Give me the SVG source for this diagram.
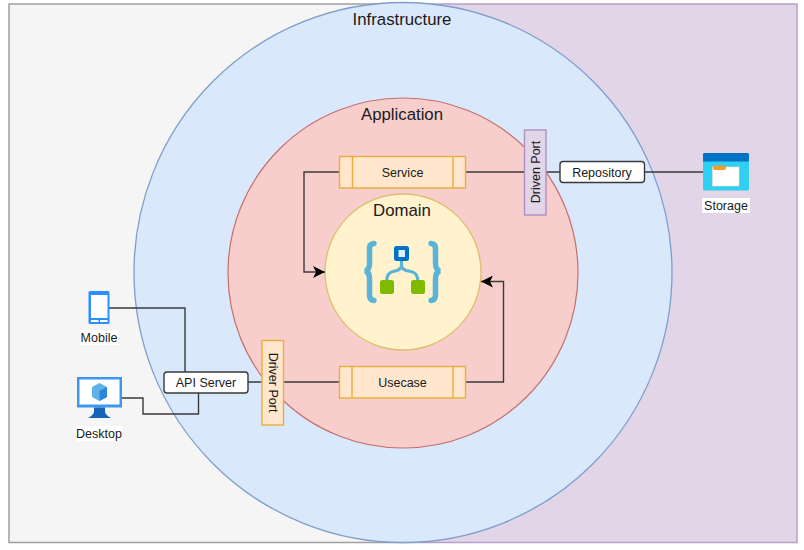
<svg xmlns="http://www.w3.org/2000/svg" width="804" height="550" viewBox="0 0 804 550">
<style>
text{font-family:"Liberation Sans",Arial,sans-serif;fill:#1a1a1a;text-anchor:middle}
.t{font-size:12.5px}
.h{font-size:16.8px}
.c{fill:none;stroke:#3a3a3a;stroke-width:1.4}
.proc{fill:#ffe6cc;stroke:#e8ad3c;stroke-width:1.4}
.lab{fill:#fff;stroke:#3a3a3a;stroke-width:1.4}
</style>
<defs>
<marker id="arr" viewBox="0 0 10 10" refX="10" refY="5" markerWidth="12" markerHeight="12" markerUnits="userSpaceOnUse" orient="auto"><path d="M0 0L10 5L0 10L2.5 5Z" fill="#000"/></marker>
</defs>
<rect width="804" height="550" fill="#fff"/>
<g id="background">
<path d="M403 4H9V542.500H403Z" fill="#f5f5f5" stroke="#a0a0a0" stroke-width="1.500"/>
<path d="M403 4H797V542.500H403Z" fill="#e1d5e7" stroke="#b9a0c8" stroke-width="1.500"/>
</g>
<g id="infrastructure"><ellipse cx="403" cy="272.500" rx="269" ry="270" fill="#dae8fc" stroke="#7f9ecb" stroke-width="1.300"/><text class="h" x="402" y="25">Infrastructure</text></g>
<g id="application"><circle cx="403" cy="273" r="175" fill="#f8cecc" stroke="#c56f6b" stroke-width="1.200"/><text class="h" x="402" y="120">Application</text></g>
<g id="domain"><circle cx="403" cy="272" r="78" fill="#fff2cc" stroke="#dcbf6e" stroke-width="1.300"/><text class="h" x="402" y="216">Domain</text>
<g fill="none" stroke="#59b4d9" stroke-linecap="round">
<path stroke-width="5.500" d="M374 243.500Q369.500 244 369.500 248V263Q369.500 270 365 271Q369.500 272 369.500 279V295Q369.500 300 374 300.500"/>
<path stroke-width="5.500" d="M431 243.500Q435.500 244 435.500 248V263Q435.500 270 440 271Q435.500 272 435.500 279V295Q435.500 300 431 300.500"/>
<path d="M401.500 260V266Q401.500 268.500 397 270.500L393 271.500Q386.500 273 386.500 282M401.500 266Q401.500 268.500 406 270.500L411 271.500Q418 273 418 282" stroke-width="3.200"/>
</g>
<rect x="394" y="246" width="15" height="15" rx="2.500" fill="#0072c6"/><rect x="398.500" y="250" width="6.500" height="7" fill="#dff0f8"/>
<rect x="380" y="280" width="14" height="14" rx="2.500" fill="#7fba00"/><rect x="411" y="280" width="14" height="14" rx="2.500" fill="#7fba00"/>
</g>
<g id="connectors">
<path class="c" d="M339.500 172H304V272H325" marker-end="url(#arr)"/>
<path class="c" d="M466 382H503.500V281.500H481" marker-end="url(#arr)"/>
<path class="c" d="M466 172H524.500M546 172H560M644.500 172H703"/>
<path class="c" d="M283.500 382H339.500M248 382H262"/>
<path class="c" d="M109 308H185V372M122 398H143V414H198.500V393"/>
</g>
<g id="service"><rect class="proc" x="339.500" y="156.500" width="126" height="31.500"/><path class="proc" d="M352.500 156.500V188M453 156.500V188"/><text class="t" x="402.500" y="176.500">Service</text></g>
<g id="usecase"><rect class="proc" x="339.500" y="366.500" width="126" height="31.500"/><path class="proc" d="M352 366.500V398M453 366.500V398"/><text class="t" x="402.500" y="386.500">Usecase</text></g>
<g id="driven-port"><rect x="524.500" y="130" width="21.500" height="85" fill="#e1d5e7" stroke="#b08fc4" stroke-width="1.400"/><text class="t" transform="translate(539.500 172) rotate(-90)">Driven Port</text></g>
<g id="driver-port"><rect x="262" y="340.500" width="21.500" height="84.500" fill="#ffe6cc" stroke="#e8ad3c" stroke-width="1.400"/><text class="t" transform="translate(268.500 382.500) rotate(90)">Driver Port</text></g>
<g id="repository"><rect class="lab" x="560" y="161.500" width="84.500" height="21" rx="3"/><text class="t" x="602" y="176.500">Repository</text></g>
<g id="api-server"><rect class="lab" x="164" y="372" width="84" height="21" rx="3"/><text class="t" x="206" y="386.500">API Server</text></g>
<g id="storage"><rect x="703" y="153" width="46" height="37.500" rx="1.500" fill="#2fd0f2"/><path d="M703 161.500V154.500Q703 153 704.500 153H747.500Q749 153 749 154.500V161.500Z" fill="#0072c6"/><rect x="712.500" y="167" width="26.500" height="19" fill="#fff" stroke="#e8e0c8" stroke-width="0.600"/><rect x="713" y="165.500" width="13" height="4.500" rx="2" fill="#f59a23"/><rect x="702" y="198" width="48" height="15" fill="#fff"/><text class="t" x="726" y="209.500">Storage</text></g>
<g id="mobile"><rect x="88.500" y="291" width="21" height="33" rx="1.500" fill="#2b8fff"/><rect x="91" y="295" width="16.500" height="23" fill="#fff"/><path d="M91 320H98.500V322H91ZM100 320H107.500V322H100Z" fill="#fff"/><rect x="80" y="330" width="38" height="15" fill="#fff"/><text class="t" x="99" y="341.500">Mobile</text></g>
<g id="desktop"><rect x="77" y="377" width="45" height="30.500" fill="#3d96ef"/><rect x="79.500" y="379.500" width="40" height="25" fill="#fff"/><path d="M99.500 383L107 387V397L99.500 401L92 397V387Z" fill="#5fb2e8"/><path d="M99.500 391L107 387V397L99.500 401Z" fill="#2a86d8"/><path d="M94 407.500H105V412Q106 415.500 111 418H88Q93 415.500 94 412Z" fill="#1664b8"/><rect x="76" y="426" width="46" height="15" fill="#fff"/><text class="t" x="99" y="437.500">Desktop</text></g>
</svg>
